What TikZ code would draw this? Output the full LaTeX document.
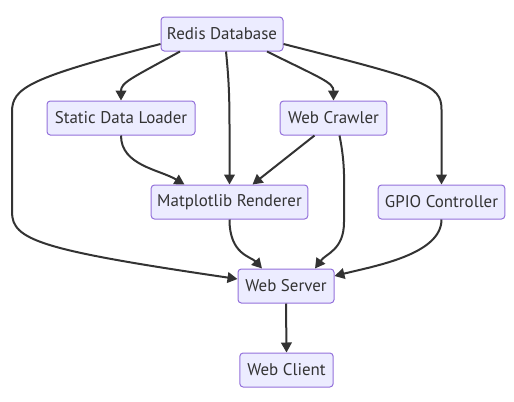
\documentclass[tikz,border=0pt]{standalone}
\usepackage{fontspec}
\setmainfont{PT Sans}
\usetikzlibrary{arrows.meta,calc}
\definecolor{nodefill}{HTML}{ECECFF}
\definecolor{nodeborder}{HTML}{9370DB}
\definecolor{edgecol}{HTML}{333333}
\begin{document}
\begin{tikzpicture}[x=0.75pt,y=-0.75pt,
  box/.style={draw=nodeborder,fill=nodefill,line width=0.75pt,rounded corners=2.5pt,
    minimum height=25.5pt,inner sep=0pt,text=edgecol,font=\fontsize{12.7}{14}\selectfont},
  edge/.style={draw=edgecol,line width=1.5pt,-{Triangle[length=7.5pt,width=8pt]}}]
\useasboundingbox (0,0) rectangle (514,401);
\node[box,minimum width=91.5pt] (r) at (222,34) {Redis Database};
\node[box,minimum width=111pt] (s) at (121,118) {Static Data Loader};
\node[box,minimum width=80pt] (c) at (333.5,118) {Web Crawler};
\node[box,minimum width=117.5pt] (m) at (229.5,202) {Matplotlib Renderer};
\node[box,minimum width=95pt] (g) at (441.5,202) {GPIO Controller};
\node[box,minimum width=72pt] (w) at (286,286) {Web Server};
\node[box,minimum width=70pt] (k) at (286.5,370) {Web Client};
% Redis -> Static Data Loader
\draw[edge] ($(r.south)+(-42,0)$) .. controls ($(s.north)+(10,-22)$) and ($(s.north)+(0,-18)$) .. (s.north);
% Redis -> Web Crawler
\draw[edge] ($(r.south)+(45,0)$) .. controls ($(c.north)+(-12,-22)$) and ($(c.north)+(0,-18)$) .. (c.north);
% Redis -> Matplotlib
\draw[edge] ($(r.south)+(4,0)$) .. controls ($(r.south)+(8,40)$) and ($(m.north)+(0,-80)$) .. (m.north);
% Redis -> GPIO
\draw[edge] ($(r.east)+(0,10)$) .. controls (425,80) and ($(g.north)+(0,-100)$) .. ($(g.north)+(0,-75)$) -- (g.north);
% Redis -> Web Server
\coordinate (l1) at (12,112);
\coordinate (l2) at (12,212);
\draw[edge] ($(r.west)+(0,10)$) .. controls (28,78) and (12,88) .. (l1) -- (l2) .. controls (12,240) and (40,250) .. ($(w.west)+(0,-7)$);
% Static -> Matplotlib
\draw[edge] (s.south) .. controls ($(s.south)+(0,30)$) and ($(m.north)+(-70,-15)$) .. ($(m.north)+(-45,0)$);
% Crawler -> Matplotlib
\draw[edge] ($(c.south)+(-19,0)$) -- ($(m.north)+(23,0)$);
% Crawler -> Web Server
\draw[edge] ($(c.south)+(6,0)$) .. controls ($(c.south)+(12,30)$) and (344,180) .. (344,222) .. controls (344,250) and ($(w.north)+(40,-15)$) .. ($(w.north)+(29,0)$);
% Matplotlib -> Web Server
\draw[edge] (m.south) .. controls ($(m.south)+(0,35)$) and ($(w.north)+(-35,-12)$) .. ($(w.north)+(-24,0)$);
% GPIO -> Web Server
\draw[edge] (g.south) .. controls ($(g.south)+(0,35)$) and ($(w.east)+(40,-20)$) .. ($(w.east)+(0,-10)$);
% Web Server -> Web Client
\draw[edge] (w.south) -- (k.north);
\end{tikzpicture}
\end{document}
